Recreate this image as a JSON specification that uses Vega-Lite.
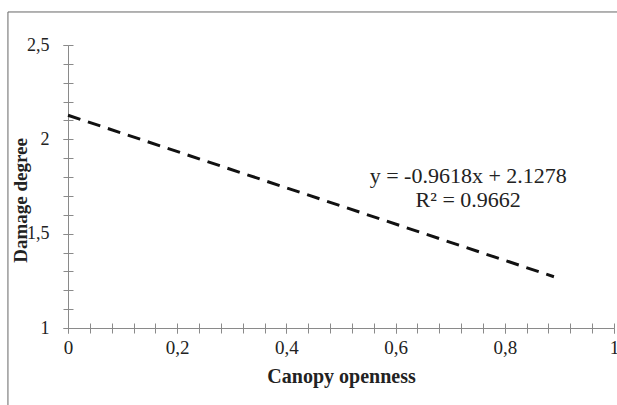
{
  "$schema": "https://vega.github.io/schema/vega-lite/v6.json",
  "width": 546,
  "height": 283,
  "autosize": {"type": "none"},
  "padding": {"left": 68, "top": 45, "right": 3, "bottom": 77},
  "background": "white",
  "config": {
    "locale": {"number": {"decimal": ",", "thousands": ".", "grouping": [3], "currency": ["", " €"]}},
    "view": {"stroke": null},
    "font": "Liberation Serif",
    "axis": {"grid": false, "labelFont": "Liberation Serif", "labelFontSize": 19, "titleFont": "Liberation Serif", "tickColor": "#8a8a8a", "domainColor": "#8a8a8a", "labelColor": "#222", "titleColor": "#222", "labelFlush": false, "labelOverlap": false}
  },
  "data": {"values": [{"openness": 0, "damage": 2.1278}, {"openness": 0.89, "damage": 1.2718}]},
  "resolve": {"axis": {"x": "independent", "y": "independent"}},
  "layer": [
    {
      "mark": {"type": "line", "strokeDash": [13, 8], "strokeWidth": 3, "color": "#111"},
      "encoding": {
        "x": {"field": "openness", "type": "quantitative", "scale": {"domain": [0, 1], "nice": false, "zero": false},
          "axis": {"orient": "bottom", "values": [0, 0.2, 0.4, 0.6, 0.8, 1], "format": "~g",
            "tickSize": 5, "labelFont": "Liberation Serif", "labelFontSize": 19, "labelPadding": 5,
            "title": "Canopy openness", "titleFont": "Liberation Serif", "titleFontSize": 20, "titleFontWeight": "bold", "titleX": 273, "titleY": 54, "titleBaseline": "alphabetic", "titleAlign": "center"}},
        "y": {"field": "damage", "type": "quantitative", "scale": {"domain": [1, 2.5], "nice": false, "zero": false},
          "axis": {"orient": "left", "values": [1, 1.5, 2, 2.5], "format": "~g",
            "tickSize": 5, "labelFont": "Liberation Serif", "labelFontSize": 18, "labelPadding": 14,
            "title": "Damage degree", "titleFont": "Liberation Serif", "titleFontSize": 19, "titleFontWeight": "bold", "titleAngle": 270, "titleX": -48, "titleY": 155, "titleAlign": "center", "titleBaseline": "middle"}}
      }
    },
    {
      "mark": {"type": "line", "opacity": 0},
      "encoding": {
        "x": {"field": "openness", "type": "quantitative",
          "axis": {"orient": "bottom", "values": [0, 0.04, 0.08, 0.12, 0.16, 0.2, 0.24, 0.28, 0.32, 0.36, 0.4, 0.44, 0.48, 0.52, 0.56, 0.6, 0.64, 0.68, 0.72, 0.76, 0.8, 0.84, 0.88, 0.92, 0.96, 1],
            "tickSize": -5, "labels": false, "domain": false, "title": null}},
        "y": {"field": "damage", "type": "quantitative",
          "axis": {"orient": "left", "values": [1, 1.1, 1.2, 1.3, 1.4, 1.5, 1.6, 1.7, 1.8, 1.9, 2, 2.1, 2.2, 2.3, 2.4, 2.5],
            "tickSize": -5, "labels": false, "domain": false, "title": null}}
      }
    },
    {
      "mark": {"type": "line", "opacity": 0},
      "encoding": {
        "x": {"field": "openness", "type": "quantitative",
          "axis": {"orient": "bottom", "values": [0, 0.04, 0.08, 0.12, 0.16, 0.2, 0.24, 0.28, 0.32, 0.36, 0.4, 0.44, 0.48, 0.52, 0.56, 0.6, 0.64, 0.68, 0.72, 0.76, 0.8, 0.84, 0.88, 0.92, 0.96, 1],
            "tickSize": 5, "labels": false, "domain": false, "title": null}},
        "y": {"field": "damage", "type": "quantitative",
          "axis": {"orient": "left", "values": [1, 1.1, 1.2, 1.3, 1.4, 1.5, 1.6, 1.7, 1.8, 1.9, 2, 2.1, 2.2, 2.3, 2.4, 2.5],
            "tickSize": 5, "labels": false, "domain": false, "title": null}}
      }
    },
    {
      "data": {"values": [{"label": ["y = -0.9618x + 2.1278", "R² = 0.9662"]}]},
      "mark": {"type": "text", "font": "Liberation Serif", "fontSize": 22, "lineHeight": 24, "align": "center", "baseline": "middle", "color": "#222"},
      "encoding": {
        "x": {"datum": 0.733, "type": "quantitative", "axis": null},
        "y": {"datum": 1.806, "type": "quantitative", "axis": null},
        "text": {"field": "label"}
      }
    },
    {
      "data": {"values": [{}]},
      "mark": {"type": "rule", "color": "#666", "strokeWidth": 1},
      "encoding": {
        "x": {"datum": -0.11, "type": "quantitative", "axis": null},
        "y": {"datum": 2.675, "type": "quantitative", "axis": null},
        "x2": {"datum": 1.02}
      }
    },
    {
      "data": {"values": [{}]},
      "mark": {"type": "rule", "color": "#666", "strokeWidth": 1},
      "encoding": {
        "x": {"datum": -0.11, "type": "quantitative", "axis": null},
        "y": {"datum": 0.5, "type": "quantitative", "axis": null},
        "y2": {"datum": 2.675}
      }
    }
  ]
}
